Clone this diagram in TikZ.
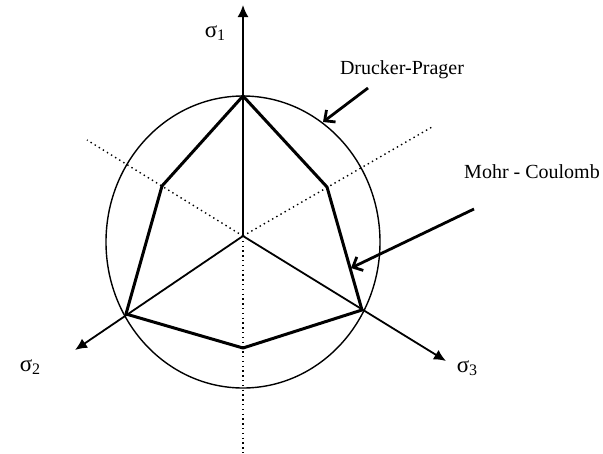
\documentclass[tikz,border=0pt]{standalone}
\usepackage{fontspec}
\setmainfont{Liberation Serif}
\usetikzlibrary{arrows.meta}
\newcommand\sigmalabel[1]{{\fontsize{23}{23}\selectfont σ}\raisebox{-0.3ex}{\fontsize{16}{16}\selectfont #1}}
\begin{document}
\begin{tikzpicture}[x=1pt,y=-1pt,
  axis/.style={line width=1.8pt,-{Latex[length=12pt,width=11pt]}},
  mc/.style={line width=3pt,line join=round},
  dp/.style={line width=1.4pt},
  guide/.style={line width=1.4pt,dash pattern=on 1.4pt off 3.4pt},
  pointer/.style={line width=2.8pt,-{Straight Barb[length=8pt,width=15pt]}},
  lbl/.style={font=\fontsize{20}{23}\selectfont,inner sep=0pt},
]
\useasboundingbox (0,0) rectangle (603,453);
% key points
\coordinate (O) at (243,236);
\coordinate (C) at (243,242);
\coordinate (A1) at (243,96);
\coordinate (A2) at (126,314);
\coordinate (A3) at (362,310);
\coordinate (B13) at (327,187);
\coordinate (B12) at (162,186);
\coordinate (B23) at (243,348);
\coordinate (T1) at (243,5);
\coordinate (T2) at (75,350);
\coordinate (T3) at (446,361);
\coordinate (D1) at (87,140);
\coordinate (D2) at (432,127);
\coordinate (D3) at (243,453);
% dotted guide lines
\draw[guide] (O) -- (D1);
\draw[guide] (O) -- (D2);
\draw[guide] (O) -- (D3);
% Drucker-Prager circle
\draw[dp] (C) ellipse [x radius=137, y radius=146];
% axes
\draw[axis] (O) -- (T1);
\draw[axis] (O) -- (T2);
\draw[axis] (O) -- (T3);
% Mohr-Coulomb hexagon
\draw[mc] (A1) -- (B13) -- (A3) -- (B23) -- (A2) -- (B12) -- cycle;
% labels
\node[lbl] (s1) at (215,33) {\sigmalabel{1}};
\node[lbl] (s2) at (30,367) {\sigmalabel{2}};
\node[lbl] (s3) at (467,368) {\sigmalabel{3}};
\node[lbl] (dpl) at (402,70) {Drucker-Prager};
\node[lbl] (mcl) at (532,172) {Mohr - Coulomb};
% pointers
\coordinate (dpS) at (368,88);
\coordinate (dpE) at (323,122);
\coordinate (mcS) at (474,209);
\coordinate (mcE) at (351,268);
\draw[pointer] (dpS) -- (dpE);
\draw[pointer] (mcS) -- (mcE);
\end{tikzpicture}
\end{document}
